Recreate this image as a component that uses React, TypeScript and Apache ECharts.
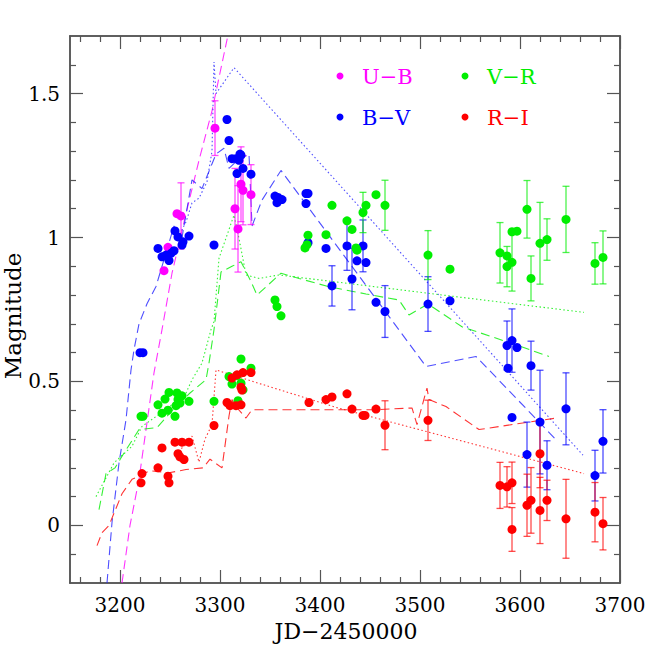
import React, { useEffect, useRef } from "react";
import * as echarts from "echarts";

// ---- data: [JD-2450000, magnitude, error] ----
const UB_POINTS: number[][] = [
  [3244, 0.885, 0], [3248, 0.966, 0], [3257, 1.083, 0], [3261, 1.075, 0.115],
  [3295, 1.38, 0.095], [3315, 1.10, 0.14], [3318, 1.03, 0.15], [3321, 1.185, 0.13],
  [3323, 1.164, 0.12], [3331, 1.149, 0.104],
];
const BV_POINTS: number[][] = [
  [3220, 0.6, 0], [3223, 0.6, 0],
  [3238, 0.962, 0], [3242, 0.933, 0], [3246, 0.939, 0], [3249, 0.92, 0], [3251, 0.945, 0],
  [3254, 0.954, 0], [3255, 1.023, 0], [3258, 1.002, 0], [3262, 0.974, 0], [3263, 0.985, 0],
  [3269, 1.005, 0], [3294, 0.974, 0], [3307, 1.41, 0], [3309, 1.337, 0], [3312, 1.274, 0],
  [3316, 1.274, 0], [3319, 1.268, 0], [3321, 1.286, 0], [3320, 1.29, 0], [3317, 1.222, 0],
  [3323, 1.24, 0], [3331, 1.22, 0], [3355, 1.144, 0], [3358, 1.139, 0], [3362, 1.132, 0],
  [3357, 1.121, 0], [3386, 1.153, 0], [3388, 1.153, 0], [3386, 1.118, 0], [3388, 0.982, 0],
  [3406, 0.962, 0], [3412, 0.832, 0.07], [3427, 0.971, 0.085], [3432, 0.856, 0.107],
  [3437, 0.919, 0], [3443, 0.971, 0.09], [3446, 0.913, 0], [3456, 0.775, 0],
  [3465, 0.743, 0.09], [3508, 0.769, 0.095], [3530, 0.78, 0], [3587, 0.625, 0.085],
  [3588, 0.546, 0], [3592, 0.642, 0.11], [3597, 0.618, 0], [3592, 0.375, 0],
  [3611, 0.555, 0.085], [3607, 0.246, 0.113], [3620, 0.359, 0.18], [3627, 0.209, 0.085],
  [3646, 0.405, 0.125], [3675, 0.173, 0.088], [3683, 0.292, 0.11],
];
const VR_POINTS: number[][] = [
  [3221, 0.379, 0], [3223, 0.379, 0], [3238, 0.419, 0], [3242, 0.39, 0], [3245, 0.439, 0],
  [3249, 0.462, 0], [3248, 0.40, 0], [3255, 0.379, 0], [3256, 0.416, 0], [3257, 0.46, 0],
  [3258, 0.437, 0], [3260, 0.425, 0], [3262, 0.45, 0], [3269, 0.431, 0], [3294, 0.431, 0],
  [3309, 0.517, 0], [3312, 0.491, 0], [3317, 0.52, 0], [3318, 0.433, 0], [3321, 0.494, 0],
  [3321, 0.578, 0], [3323, 0.471, 0], [3331, 0.546, 0], [3355, 0.783, 0], [3357, 0.76, 0],
  [3361, 0.728, 0], [3385, 0.964, 0], [3387, 0.975, 0], [3388, 1.008, 0], [3406, 1.01, 0],
  [3412, 1.112, 0], [3427, 1.058, 0], [3432, 1.028, 0], [3436, 0.964, 0], [3437, 0.956, 0],
  [3443, 1.087, 0.07], [3446, 1.112, 0], [3456, 1.149, 0], [3465, 1.112, 0.087],
  [3508, 0.939, 0.085], [3530, 0.89, 0], [3580, 0.947, 0.105], [3587, 0.936, 0],
  [3587, 0.899, 0.07], [3592, 0.914, 0.1], [3592, 1.02, 0], [3597, 1.022, 0],
  [3607, 1.098, 0.1], [3611, 0.858, 0.078], [3620, 0.98, 0.142], [3627, 0.993, 0.072],
  [3646, 1.063, 0.115], [3675, 0.91, 0.072], [3683, 0.931, 0.092],
];
const RI_POINTS: number[][] = [
  [3221, 0.148, 0], [3222, 0.18, 0], [3238, 0.2, 0], [3242, 0.269, 0], [3248, 0.171, 0],
  [3249, 0.148, 0], [3255, 0.289, 0], [3262, 0.289, 0], [3269, 0.289, 0], [3258, 0.249, 0],
  [3260, 0.238, 0], [3264, 0.229, 0], [3294, 0.347, 0], [3307, 0.427, 0], [3310, 0.416, 0],
  [3316, 0.416, 0], [3321, 0.419, 0], [3312, 0.512, 0], [3317, 0.523, 0], [3323, 0.531, 0],
  [3331, 0.531, 0], [3321, 0.48, 0], [3322, 0.47, 0], [3389, 0.427, 0], [3406, 0.437, 0],
  [3412, 0.446, 0], [3427, 0.457, 0], [3432, 0.404, 0], [3443, 0.382, 0], [3445, 0.382, 0],
  [3456, 0.404, 0], [3465, 0.348, 0.085], [3508, 0.365, 0.07], [3580, 0.139, 0.08],
  [3587, 0.134, 0.07], [3592, 0.148, 0.072], [3592, -0.014, 0.076], [3607, 0.07, 0.108],
  [3611, 0.087, 0.114], [3620, 0.249, 0.118], [3620, 0.052, 0.115], [3627, 0.087, 0.07],
  [3646, 0.023, 0.137], [3675, 0.046, 0.103], [3683, 0.006, 0.091],
];

// ---- model curves ----
const UB_DASH: number[][] = [
  [3202, -0.2], [3210, 0.0], [3219, 0.16], [3234, 0.53], [3242, 0.68], [3252, 0.876],
  [3266, 1.083], [3279, 1.268], [3292, 1.44], [3309, 1.72],
];
const BV_DASH: number[][] = [
  [3187, -0.2], [3192, 0.01], [3199, 0.217], [3206, 0.367], [3211, 0.54], [3214, 0.61],
  [3219, 0.7], [3227, 0.77], [3236, 0.83], [3242, 0.9], [3254, 1.04], [3262, 1.0],
  [3272, 1.2], [3282, 1.17], [3296, 1.29], [3304, 1.31], [3309, 1.24], [3318, 1.27],
  [3329, 1.29], [3332, 1.04], [3342, 1.13], [3361, 1.233], [3506, 0.552], [3556, 0.587],
  [3636, 0.298],
];
const BV_DOT: number[][] = [
  [3258, 1.0], [3266, 1.054], [3272, 1.12], [3279, 1.137], [3287, 1.193], [3292, 1.3],
  [3294, 1.61], [3296, 1.5], [3314, 1.59], [3663, 0.244],
];
const VR_DASH: number[][] = [
  [3179, 0.055], [3186, 0.18], [3195, 0.2], [3202, 0.24], [3219, 0.333], [3237, 0.34],
  [3255, 0.41], [3270, 0.46], [3286, 0.506], [3289, 0.564], [3294, 0.68], [3301, 0.88],
  [3312, 0.9], [3321, 0.916], [3331, 0.847], [3337, 0.8], [3361, 0.876], [3379, 0.858],
  [3409, 0.829], [3446, 0.804], [3479, 0.783], [3489, 0.731], [3508, 0.769], [3542, 0.69],
  [3586, 0.639], [3629, 0.587],
];
const VR_DOT: number[][] = [
  [3176, 0.1], [3194, 0.217], [3212, 0.275], [3222, 0.344], [3245, 0.4], [3266, 0.46],
  [3272, 0.506], [3282, 0.564], [3291, 0.68], [3294, 0.708], [3299, 0.928], [3314, 1.078],
  [3319, 0.997], [3326, 0.87], [3339, 0.858], [3359, 0.87], [3664, 0.74],
];
const RI_DASH: number[][] = [
  [3177, -0.07], [3182, -0.025], [3189, 0.0], [3202, 0.11], [3212, 0.16], [3230, 0.19],
  [3249, 0.183], [3266, 0.194], [3283, 0.2], [3290, 0.23], [3302, 0.2], [3309, 0.38],
  [3312, 0.437], [3316, 0.413], [3326, 0.373], [3332, 0.402], [3409, 0.402], [3456, 0.402],
  [3492, 0.408], [3497, 0.35], [3507, 0.477], [3509, 0.437], [3526, 0.413], [3559, 0.333],
  [3636, 0.373],
];
const RI_DOT: number[][] = [
  [3255, 0.25], [3266, 0.28], [3272, 0.31], [3279, 0.22], [3285, 0.3], [3292, 0.35],
  [3296, 0.54], [3416, 0.41], [3664, 0.18],
];

// ---- axes ----
const X_MIN = 3150, X_MAX = 3700;
const Y_MIN = -0.2, Y_MAX = 1.7;
const X_MAJOR = [3200, 3300, 3400, 3500, 3600, 3700];
const X_MINOR = [3160, 3180, 3220, 3240, 3260, 3280, 3320, 3340, 3360, 3380, 3420, 3440, 3460, 3480,
  3520, 3540, 3560, 3580, 3620, 3640, 3660, 3680];
const Y_MAJOR = [0, 0.5, 1, 1.5];
const Y_MINOR = [-0.1, 0.1, 0.2, 0.3, 0.4, 0.6, 0.7, 0.8, 0.9, 1.1, 1.2, 1.3, 1.4, 1.6];
const Y_LABELS: Record<string, string> = { "0": "0", "0.5": "0.5", "1": "1", "1.5": "1.5" };

const C_UB = "#ff00ff", C_BV = "#0000ff", C_VR = "#00ee00", C_RI = "#ff0000";
const FONT = '"DejaVu Serif", "Liberation Serif", serif';
const AXIS_COLOR = "#555555";

function makeXAxis(pos: "bottom" | "top", values: number[], len: number, labels: boolean) {
  return {
    type: "value", position: pos, min: X_MIN, max: X_MAX,
    axisLine: { show: true, onZero: false, lineStyle: { color: AXIS_COLOR, width: 1.5 } },
    axisTick: { show: true, inside: true, length: len, customValues: values, lineStyle: { color: AXIS_COLOR, width: 1.2 } },
    axisLabel: labels
      ? {
          show: true, customValues: values, margin: 12, color: "#000", fontFamily: FONT, fontSize: 20,
          formatter: (v: number) => String(Math.round(v)),
        }
      : { show: false },
    splitLine: { show: false },
  };
}
function makeYAxis(pos: "left" | "right", values: number[], len: number, labels: boolean) {
  return {
    type: "value", position: pos, min: Y_MIN, max: Y_MAX,
    axisLine: { show: true, onZero: false, lineStyle: { color: AXIS_COLOR, width: 1.5 } },
    axisTick: { show: true, inside: true, length: len, customValues: values, lineStyle: { color: AXIS_COLOR, width: 1.2 } },
    axisLabel: labels
      ? {
          show: true, customValues: values, margin: 10, color: "#000", fontFamily: FONT, fontSize: 20,
          formatter: (v: number) => Y_LABELS[String(Math.round(v * 10) / 10)] ?? "",
        }
      : { show: false },
    splitLine: { show: false },
  };
}

function errorSeries(name: string, data: number[][], color: string) {
  return {
    name: name + "-err", type: "custom", z: 2, silent: true,
    data: data.filter((d) => d[2] > 0),
    renderItem: (_p: any, api: any) => {
      const x = api.value(0), y = api.value(1), e = api.value(2);
      const top = api.coord([x, y + e]);
      const bot = api.coord([x, y - e]);
      const w = 3.5;
      const style = { stroke: color, lineWidth: 1.3, opacity: 0.7 };
      return {
        type: "group",
        children: [
          { type: "line", shape: { x1: top[0], y1: top[1], x2: bot[0], y2: bot[1] }, style },
          { type: "line", shape: { x1: top[0] - w, y1: top[1], x2: top[0] + w, y2: top[1] }, style },
          { type: "line", shape: { x1: bot[0] - w, y1: bot[1], x2: bot[0] + w, y2: bot[1] }, style },
        ],
      };
    },
  };
}
function pointSeries(name: string, data: number[][], color: string) {
  return {
    name, type: "scatter", z: 3, symbol: "circle", symbolSize: 9,
    itemStyle: { color, opacity: 1 },
    data: data.map((d) => [d[0], d[1]]),
  };
}
function lineSeries(name: string, data: number[][], color: string, dotted: boolean) {
  return {
    name, type: "line", z: 1, showSymbol: false, symbol: "none", smooth: false, clip: true,
    lineStyle: { color, width: 1.1, opacity: 0.8, type: dotted ? [1.5, 2.5] : [9, 5] },
    data,
  };
}

export default function App() {
  const ref = useRef<HTMLDivElement>(null);
  useEffect(() => {
    if (!ref.current) return;
    const chart = echarts.init(ref.current, undefined, { renderer: "svg" });
    const legendItems = [
      { label: "U−B", color: C_UB, x: 340, y: 76 },
      { label: "V−R", color: C_VR, x: 465, y: 76 },
      { label: "B−V", color: C_BV, x: 340, y: 117 },
      { label: "R−I", color: C_RI, x: 465, y: 117 },
    ];
    const graphic: any[] = [];
    legendItems.forEach((it) => {
      graphic.push({ type: "circle", shape: { cx: it.x, cy: it.y, r: 3.5 }, style: { fill: it.color } });
      graphic.push({
        type: "text", x: it.x + 22, y: it.y + 1,
        style: { text: it.label, fill: it.color, font: `21px ${FONT}`, textAlign: "left", textVerticalAlign: "middle" },
      });
    });
    graphic.push({
      type: "text", x: 13, y: 316, rotation: Math.PI / 2,
      style: { text: "Magnitude", fill: "#000", font: `23px ${FONT}`, textAlign: "center", textVerticalAlign: "middle" },
    });
    graphic.push({
      type: "text", x: 346, y: 631,
      style: { text: "JD−2450000", fill: "#000", font: `22px ${FONT}`, textAlign: "center", textVerticalAlign: "middle" },
    });

    chart.setOption({
      animation: false,
      backgroundColor: "#ffffff",
      grid: { left: 70, right: 34, top: 36, bottom: 71, containLabel: false },
      xAxis: [
        makeXAxis("bottom", X_MAJOR, 13, true),
        makeXAxis("bottom", X_MINOR, 6, false),
        makeXAxis("top", X_MAJOR, 13, false),
        makeXAxis("top", X_MINOR, 6, false),
      ],
      yAxis: [
        makeYAxis("left", Y_MAJOR, 13, true),
        makeYAxis("left", Y_MINOR, 6, false),
        makeYAxis("right", Y_MAJOR, 13, false),
        makeYAxis("right", Y_MINOR, 6, false),
      ],
      series: [
        lineSeries("UB-dash", UB_DASH, C_UB, false),
        lineSeries("BV-dash", BV_DASH, "#2222ff", false),
        lineSeries("BV-dot", BV_DOT, "#2222ff", true),
        lineSeries("VR-dash", VR_DASH, C_VR, false),
        lineSeries("VR-dot", VR_DOT, C_VR, true),
        lineSeries("RI-dash", RI_DASH, C_RI, false),
        lineSeries("RI-dot", RI_DOT, C_RI, true),
        errorSeries("U−B", UB_POINTS, C_UB),
        errorSeries("B−V", BV_POINTS, C_BV),
        errorSeries("V−R", VR_POINTS, C_VR),
        errorSeries("R−I", RI_POINTS, C_RI),
        pointSeries("U−B", UB_POINTS, C_UB),
        pointSeries("B−V", BV_POINTS, C_BV),
        pointSeries("V−R", VR_POINTS, C_VR),
        pointSeries("R−I", RI_POINTS, C_RI),
      ],
      graphic,
    });
    return () => chart.dispose();
  }, []);
  return <div ref={ref} style={{ position: "fixed", left: 0, top: 0, width: 654, height: 654, background: "#fff" }} />;
}
